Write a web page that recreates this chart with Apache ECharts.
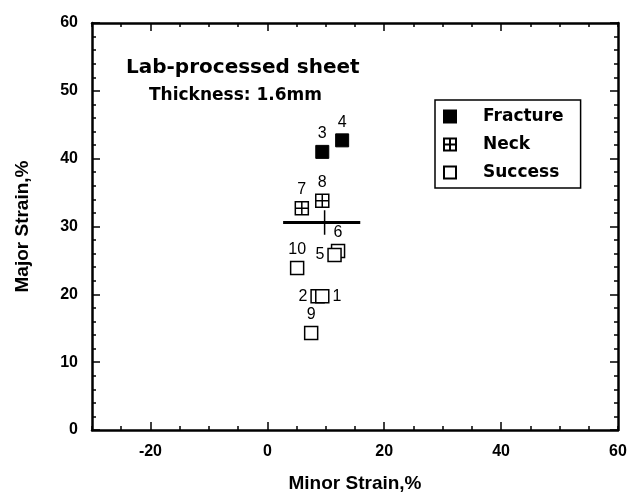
<!DOCTYPE html>
<html>
<head>
<meta charset="utf-8">
<script src="https://cdn.jsdelivr.net/npm/echarts@6/dist/echarts.min.js"></script>
<style>
  html, body { margin: 0; padding: 0; background: #fff; }
  #chart { width: 639px; height: 495px; }
</style>
</head>
<body>
<div id="chart"></div>
<script>
// specimen results (minor strain, major strain)
const fractureIds = ['3', '4'];
const fractureX = [9.4, 12.8];
const fractureY = [41.0, 42.7];

const neckIds = ['7', '8'];
const neckX = [5.9, 9.4];
const neckY = [32.7, 33.8];

const successIds = ['6', '5', '10', '2', '1', '9'];
const successX = [12.1, 11.5, 5.1, 8.6, 9.4, 7.5];
const successY = [26.4, 25.8, 23.9, 19.7, 19.7, 14.3];

// average cross
const crossH = [[2.7, 30.6], [15.9, 30.6]];
const crossV = [[9.8, 32.4], [9.8, 28.8]];

const xLabels = [-20, 0, 20, 40, 60];
const xMajor = [-20, 0, 20, 40];

const labelPos = { '1': 'right', '2': 'left', '5': 'left' };

const font = '"Liberation Sans", Arial, sans-serif';
const wide = '"DejaVu Sans", sans-serif';

function pts(ids, xs, ys) {
  return ids.map((id, i) => ({
    value: [xs[i], ys[i]],
    name: id,
    label: { position: labelPos[id] || 'top' }
  }));
}

const neckPath = 'path://M0,0H10V10H0Z M5,0V10 M0,5H10';

const chart = echarts.init(document.getElementById('chart'));

const baseX = {
  type: 'value', min: -30, max: 60, interval: 5,
  splitLine: { show: false },
  axisLine: { show: true, onZero: false, lineStyle: { color: '#000', width: 2.5 } },
  axisTick: { inside: true, length: 4, lineStyle: { color: '#000', width: 1.5 } },
  axisLabel: { show: false }
};
const majorX = {
  type: 'value', min: -30, max: 60,
  splitLine: { show: false },
  axisLine: { show: false, onZero: false },
  axisTick: { show: true, inside: true, length: 8, customValues: xMajor, lineStyle: { color: '#000', width: 1.5 } },
  axisLabel: { show: false }
};
const baseY = {
  type: 'value', min: 0, max: 60, interval: 10,
  splitLine: { show: false },
  axisLine: { show: true, onZero: false, lineStyle: { color: '#000', width: 2.5 } },
  axisTick: { inside: true, length: 8, lineStyle: { color: '#000', width: 1.5 } },
  minorTick: { show: true, splitNumber: 5, length: 4, lineStyle: { color: '#000', width: 1.5 } },
  axisLabel: { show: false }
};

const ptLabel = { show: true, formatter: '{b}', distance: 3, fontFamily: font, fontSize: 16, color: '#000' };

chart.setOption({
  animation: false,
  backgroundColor: '#fff',
  grid: { left: 92, right: 21, top: 23, bottom: 65, containLabel: false, outerBoundsMode: 'none' },
  title: [
    { text: 'Lab-processed sheet', left: 121, top: 53,
      textStyle: { fontFamily: wide, fontWeight: 'bold', fontSize: 20, color: '#000' } },
    { text: 'Thickness: 1.6mm', left: 144, top: 82,
      textStyle: { fontFamily: wide, fontWeight: 'bold', fontSize: 17, color: '#000' } }
  ],
  legend: {
    orient: 'vertical', left: 435, top: 100,
    data: ['Fracture', 'Neck', 'Success'],
    itemWidth: 12, itemHeight: 12, itemGap: 11,
    padding: [8, 17, 7, 8],
    borderColor: '#000', borderWidth: 1.5,
    textStyle: { fontFamily: wide, fontWeight: 'bold', fontSize: 17, color: '#000', padding: [0, 0, 0, 22] }
  },
  xAxis: [
    Object.assign({}, baseX, {
      position: 'bottom',
      name: 'Minor Strain,%', nameLocation: 'middle', nameGap: 44,
      nameTextStyle: { fontFamily: font, fontWeight: 'bold', fontSize: 19, color: '#000' },
      axisLabel: { show: true, customValues: xLabels, margin: 14,
        fontFamily: font, fontWeight: 'bold', fontSize: 16, color: '#000' }
    }),
    Object.assign({}, majorX, { position: 'bottom' }),
    Object.assign({}, baseX, { position: 'top' }),
    Object.assign({}, majorX, { position: 'top' })
  ],
  yAxis: [
    Object.assign({}, baseY, {
      position: 'left',
      name: 'Major Strain,%', nameLocation: 'middle', nameGap: 60,
      nameTextStyle: { fontFamily: font, fontWeight: 'bold', fontSize: 19, color: '#000' },
      axisLabel: { show: true, margin: 14,
        fontFamily: font, fontWeight: 'bold', fontSize: 16, color: '#000' }
    }),
    Object.assign({}, baseY, { position: 'right' })
  ],
  series: [
    {
      name: 'Fracture', type: 'scatter', symbol: 'rect', symbolSize: 13,
      itemStyle: { color: '#000', borderColor: '#000', borderWidth: 1, opacity: 1 },
      label: ptLabel,
      data: pts(fractureIds, fractureX, fractureY)
    },
    {
      name: 'Neck', type: 'scatter', symbol: neckPath, symbolSize: 13,
      itemStyle: { color: '#fff', borderColor: '#000', borderWidth: 1.5, opacity: 1 },
      label: ptLabel,
      data: pts(neckIds, neckX, neckY)
    },
    {
      name: 'Success', type: 'scatter', symbol: 'rect', symbolSize: 13,
      itemStyle: { color: '#fff', borderColor: '#000', borderWidth: 1.5, opacity: 1 },
      label: ptLabel,
      data: pts(successIds, successX, successY)
    },
    {
      type: 'line', data: crossH, symbol: 'none', silent: true,
      lineStyle: { color: '#000', width: 3 }
    },
    {
      type: 'line', data: crossV, symbol: 'none', silent: true,
      lineStyle: { color: '#000', width: 1.5 }
    }
  ]
});
</script>
</body>
</html>
